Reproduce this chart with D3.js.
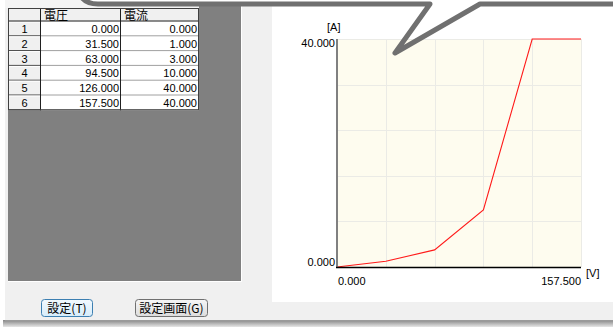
<!DOCTYPE html>
<html>
<head>
<meta charset="utf-8">
<script src="https://cdn.jsdelivr.net/npm/d3@7"></script>
<style>
  body { margin: 0; background: #fff; }
  text { font-family: "Liberation Sans Narrow", "Liberation Sans", sans-serif; font-size: 11px; fill: #000; }
  .jp { font-family: "Noto Sans CJK JP", sans-serif; font-size: 12px; }
</style>
</head>
<body>
<script>
// voltage / current table shown on the left and plotted on the right
const voltage = [0, 31.5, 63, 94.5, 126, 157.5];
const current = [0, 1, 3, 10, 40, 40];
const columns = ["電圧", "電流"];
const xUnit = "[V]";
const yUnit = "[A]";
const buttons = ["設定(T)", "設定画面(G)"];

const fmt = d3.format(".3f");

var svg = d3.select("body").append("svg")
    .attr("width", 613)
    .attr("height", 327);

var defs = svg.append("defs");
var sh = defs.append("linearGradient").attr("id", "shadow").attr("x1", 0).attr("y1", 0).attr("x2", 0).attr("y2", 1);
sh.append("stop").attr("offset", "0%").attr("stop-color", "#858585");
sh.append("stop").attr("offset", "100%").attr("stop-color", "#e6e6e6");
var b1 = defs.append("linearGradient").attr("id", "btn1").attr("x1", 0).attr("y1", 0).attr("x2", 0).attr("y2", 1);
b1.append("stop").attr("offset", "0%").attr("stop-color", "#f2f9fe");
b1.append("stop").attr("offset", "100%").attr("stop-color", "#d6ecfa");
var b2 = defs.append("linearGradient").attr("id", "btn2").attr("x1", 0).attr("y1", 0).attr("x2", 0).attr("y2", 1);
b2.append("stop").attr("offset", "0%").attr("stop-color", "#f6f6f6");
b2.append("stop").attr("offset", "100%").attr("stop-color", "#dcdcdc");

// dialog background and shadow
svg.append("rect").attr("x", 5).attr("y", 0).attr("width", 608).attr("height", 320).attr("fill", "#f0f0f0");
svg.append("rect").attr("x", 3).attr("y", 320).attr("width", 610).attr("height", 7).attr("fill", "url(#shadow)");
svg.append("line").attr("x1", 5).attr("x2", 613).attr("y1", 320.5).attr("y2", 320.5).attr("stroke", "#9a9a9a");

// grey panel behind the table
svg.append("rect").attr("x", 8).attr("y", 0).attr("width", 233).attr("height", 281).attr("fill", "#808080");
svg.append("path").attr("d", "M241.5,0V281.5H8").attr("fill", "none").attr("stroke", "#fff");
svg.append("rect").attr("x", 5).attr("y", 0).attr("width", 194).attr("height", 8).attr("fill", "#f4f4f4");

// table
var tx = [8, 41, 121, 199];
var headH = 13.5, rowH = 14.8, ty = 8;
var rowY = function(i) { return ty + headH + i * rowH; };
var tbl = svg.append("g");
tbl.append("rect").attr("x", tx[0]).attr("y", ty).attr("width", tx[3] - tx[0]).attr("height", headH + rowH * voltage.length).attr("fill", "#fff");
tbl.append("rect").attr("x", tx[0]).attr("y", ty).attr("width", tx[3] - tx[0]).attr("height", headH).attr("fill", "#f0f0f0");
tbl.append("rect").attr("x", tx[0]).attr("y", ty).attr("width", tx[1] - tx[0]).attr("height", headH + rowH * voltage.length).attr("fill", "#f0f0f0");

voltage.forEach(function(v, i) {
  var y0 = rowY(i), y1 = rowY(i + 1);
  tbl.append("line").attr("x1", tx[1]).attr("x2", tx[3]).attr("y1", y1 - 0.5).attr("y2", y1 - 0.5).attr("stroke", "#a0a0a0");
  tbl.append("line").attr("x1", tx[0]).attr("x2", tx[1]).attr("y1", y1 - 0.5).attr("y2", y1 - 0.5).attr("stroke", "#404040");
  tbl.append("line").attr("x1", tx[0]).attr("x2", tx[1]).attr("y1", y0 + 0.5).attr("y2", y0 + 0.5).attr("stroke", "#fff");
  tbl.append("text").attr("x", (tx[0] + tx[1]) / 2).attr("y", y0 + 11.5).attr("text-anchor", "middle").text(i + 1);
  tbl.append("text").attr("x", tx[2] - 2).attr("y", y0 + 11.5).attr("text-anchor", "end").text(fmt(v));
  tbl.append("text").attr("x", tx[3] - 2).attr("y", y0 + 11.5).attr("text-anchor", "end").text(fmt(current[i]));
});
tbl.append("line").attr("x1", tx[0]).attr("x2", tx[3]).attr("y1", ty + headH - 0.5).attr("y2", ty + headH - 0.5).attr("stroke", "#202020");
[1, 2].forEach(function(c) {
  tbl.append("line").attr("x1", tx[c] - 0.5).attr("x2", tx[c] - 0.5).attr("y1", ty).attr("y2", rowY(voltage.length)).attr("stroke", "#202020");
});
tbl.append("rect").attr("x", tx[0] + 0.5).attr("y", ty + 0.5).attr("width", tx[3] - tx[0] - 1).attr("height", headH + rowH * voltage.length - 1)
  .attr("fill", "none").attr("stroke", "#404040");
columns.forEach(function(c, i) {
  tbl.append("text").attr("class", "jp").attr("x", tx[i + 1] + 3).attr("y", ty + 11.5).text(c);
});

// buttons
svg.append("rect").attr("x", 41.5).attr("y", 299.5).attr("width", 51).attr("height", 17).attr("rx", 3)
  .attr("fill", "url(#btn1)").attr("stroke", "#3c7fb1");
svg.append("rect").attr("x", 135.5).attr("y", 299.5).attr("width", 72).attr("height", 17).attr("rx", 3)
  .attr("fill", "url(#btn2)").attr("stroke", "#707070");
svg.append("text").attr("class", "jp").attr("x", 67).attr("y", 312.5).attr("text-anchor", "middle").text(buttons[0]);
svg.append("text").attr("class", "jp").attr("x", 171.5).attr("y", 312.5).attr("text-anchor", "middle").text(buttons[1]);

// chart panel
svg.append("rect").attr("x", 272).attr("y", 0).attr("width", 341).attr("height", 302).attr("fill", "#fff");

var x = d3.scaleLinear().domain([0, d3.max(voltage)]).range([337, 581]);
var y = d3.scaleLinear().domain([0, d3.max(current)]).range([267, 39]);

svg.append("rect").attr("x", x(0)).attr("y", y(40)).attr("width", x(157.5) - x(0)).attr("height", y(0) - y(40)).attr("fill", "#fefcef");

var xGrid = d3.range(1, 6).map(function(i) { return x.domain()[1] * i / 5; });
var yGrid = d3.range(1, 6).map(function(i) { return y.domain()[1] * i / 5; });
svg.append("g").selectAll("line").data(xGrid).enter().append("line")
  .attr("x1", function(d) { return Math.round(x(d)) + 0.5; })
  .attr("x2", function(d) { return Math.round(x(d)) + 0.5; })
  .attr("y1", y(40)).attr("y2", y(0))
  .attr("stroke", "#ebebe6");
svg.append("g").selectAll("line").data(yGrid).enter().append("line")
  .attr("y1", function(d) { return Math.round(y(d)) + 0.5; })
  .attr("y2", function(d) { return Math.round(y(d)) + 0.5; })
  .attr("x1", x(0)).attr("x2", x(157.5))
  .attr("stroke", "#ebebe6");

var line = d3.line().x(function(d, i) { return x(voltage[i]); }).y(function(d) { return y(d); });
svg.append("path").datum(current).attr("d", line)
  .attr("fill", "none").attr("stroke", "#ff1a1a").attr("stroke-width", 1.1);

// axes
svg.append("line").attr("x1", x(0)).attr("x2", x(0)).attr("y1", y(40)).attr("y2", y(0)).attr("stroke", "#808080").attr("stroke-width", 2);
svg.append("line").attr("x1", x(0) - 1).attr("x2", x(157.5)).attr("y1", y(0) + 0.5).attr("y2", y(0) + 0.5).attr("stroke", "#000").attr("stroke-width", 1.5);

svg.append("text").attr("x", 335).attr("y", y(40) + 8).attr("text-anchor", "end").text(fmt(y.domain()[1]));
svg.append("text").attr("x", 335).attr("y", y(0) - 1).attr("text-anchor", "end").text(fmt(y.domain()[0]));
svg.append("text").attr("x", x(0) + 1).attr("y", 285).text(fmt(x.domain()[0]));
svg.append("text").attr("x", x(157.5)).attr("y", 285).attr("text-anchor", "end").text(fmt(x.domain()[1]));
svg.append("text").attr("x", 327).attr("y", 31).text(yUnit);
svg.append("text").attr("x", 586).attr("y", 277).text(xUnit);

// speech bubble edge with its tail
svg.append("path").attr("d", "M78,-10 Q82,4 98,4 L620,4 L620,-10 Z").attr("fill", "#fff");
svg.append("path").attr("d", "M78,-10 Q82,4 98,4 L430,4 L395,53 L480,4 L620,4")
  .attr("fill", "none").attr("stroke", "#707070").attr("stroke-width", 5).attr("stroke-linejoin", "round");
</script>
</body>
</html>
